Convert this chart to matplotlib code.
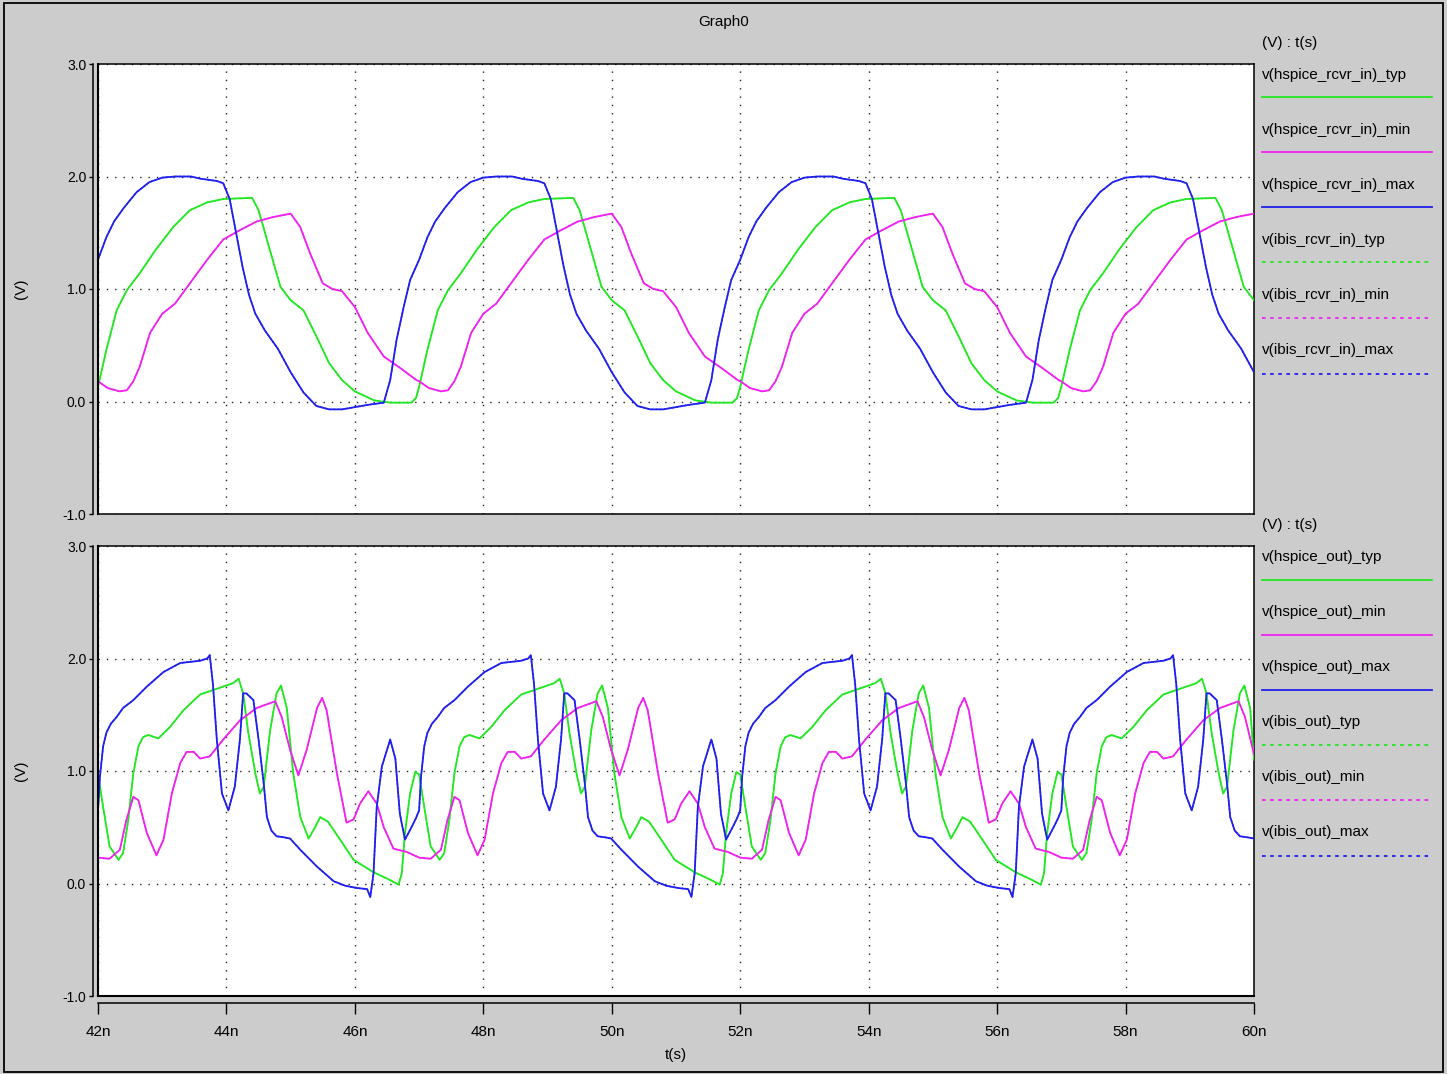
import matplotlib
matplotlib.use("Agg")
import matplotlib.pyplot as plt
from matplotlib.lines import Line2D
from matplotlib.patches import Rectangle

# ---------------- data (time in ns, voltage in V) ----------------
x_ticks = [42, 44, 46, 48, 50, 52, 54, 56, 58, 60]
x_tick_labels = ["42n", "44n", "46n", "48n", "50n", "52n", "54n", "56n", "58n", "60n"]
y_ticks = [-1.0, 0.0, 1.0, 2.0, 3.0]
y_tick_labels = ["-1.0", "0.0", "1.0", "2.0", "3.0"]

# receiver input, max corner (blue)
rcvr_in_max = [
    (42.00, 1.26), (42.13, 1.46), (42.25, 1.60), (42.40, 1.72), (42.60, 1.86), (42.80, 1.95), (43.00, 1.99), (43.20, 2.00),
    (43.45, 2.00), (43.60, 1.98), (43.85, 1.96), (43.95, 1.94), (44.05, 1.80), (44.15, 1.50), (44.25, 1.20), (44.35, 0.95),
    (44.45, 0.78), (44.60, 0.63), (44.80, 0.47), (45.00, 0.26), (45.20, 0.08), (45.40, -0.04), (45.60, -0.07), (45.80, -0.07),
    (46.00, -0.05), (46.20, -0.03), (46.45, -0.01), (46.55, 0.19), (46.65, 0.55), (46.76, 0.84), (46.86, 1.08),
    (47.00, 1.26), (47.13, 1.46), (47.25, 1.60), (47.40, 1.72), (47.60, 1.86), (47.80, 1.95), (48.00, 1.99), (48.20, 2.00),
    (48.45, 2.00), (48.60, 1.98), (48.85, 1.96), (48.95, 1.94), (49.05, 1.80), (49.15, 1.50), (49.25, 1.20), (49.35, 0.95),
    (49.45, 0.78), (49.60, 0.63), (49.80, 0.47), (50.00, 0.26), (50.20, 0.08), (50.40, -0.04), (50.60, -0.07), (50.80, -0.07),
    (51.00, -0.05), (51.20, -0.03), (51.45, -0.01), (51.55, 0.19), (51.65, 0.55), (51.76, 0.84), (51.86, 1.08),
    (52.00, 1.26), (52.13, 1.46), (52.25, 1.60), (52.40, 1.72), (52.60, 1.86), (52.80, 1.95), (53.00, 1.99), (53.20, 2.00),
    (53.45, 2.00), (53.60, 1.98), (53.85, 1.96), (53.95, 1.94), (54.05, 1.80), (54.15, 1.50), (54.25, 1.20), (54.35, 0.95),
    (54.45, 0.78), (54.60, 0.63), (54.80, 0.47), (55.00, 0.26), (55.20, 0.08), (55.40, -0.04), (55.60, -0.07), (55.80, -0.07),
    (56.00, -0.05), (56.20, -0.03), (56.45, -0.01), (56.55, 0.19), (56.65, 0.55), (56.76, 0.84), (56.86, 1.08),
    (57.00, 1.26), (57.13, 1.46), (57.25, 1.60), (57.40, 1.72), (57.60, 1.86), (57.80, 1.95), (58.00, 1.99), (58.20, 2.00),
    (58.45, 2.00), (58.60, 1.98), (58.85, 1.96), (58.95, 1.94), (59.05, 1.80), (59.15, 1.50), (59.25, 1.20), (59.35, 0.95),
    (59.45, 0.78), (59.60, 0.63), (59.80, 0.47), (60.00, 0.26),
]

# receiver input, typical corner (green)
rcvr_in_typ = [
    (42.00, 0.13), (42.13, 0.46), (42.29, 0.81), (42.45, 0.99), (42.65, 1.14), (42.90, 1.35), (43.17, 1.55), (43.43, 1.70),
    (43.70, 1.77), (43.95, 1.80), (44.40, 1.81), (44.50, 1.70), (44.60, 1.50), (44.70, 1.30), (44.84, 1.02), (45.00, 0.90),
    (45.20, 0.81), (45.40, 0.58), (45.60, 0.34), (45.80, 0.19), (46.00, 0.09), (46.30, 0.01), (46.55, -0.01), (46.88, -0.01),
    (46.95, 0.03),
    (47.00, 0.13), (47.13, 0.46), (47.29, 0.81), (47.45, 0.99), (47.65, 1.14), (47.90, 1.35), (48.17, 1.55), (48.43, 1.70),
    (48.70, 1.77), (48.95, 1.80), (49.40, 1.81), (49.50, 1.70), (49.60, 1.50), (49.70, 1.30), (49.84, 1.02), (50.00, 0.90),
    (50.20, 0.81), (50.40, 0.58), (50.60, 0.34), (50.80, 0.19), (51.00, 0.09), (51.30, 0.01), (51.55, -0.01), (51.88, -0.01),
    (51.95, 0.03),
    (52.00, 0.13), (52.13, 0.46), (52.29, 0.81), (52.45, 0.99), (52.65, 1.14), (52.90, 1.35), (53.17, 1.55), (53.43, 1.70),
    (53.70, 1.77), (53.95, 1.80), (54.40, 1.81), (54.50, 1.70), (54.60, 1.50), (54.70, 1.30), (54.84, 1.02), (55.00, 0.90),
    (55.20, 0.81), (55.40, 0.58), (55.60, 0.34), (55.80, 0.19), (56.00, 0.09), (56.30, 0.01), (56.55, -0.01), (56.88, -0.01),
    (56.95, 0.03),
    (57.00, 0.13), (57.13, 0.46), (57.29, 0.81), (57.45, 0.99), (57.65, 1.14), (57.90, 1.35), (58.17, 1.55), (58.43, 1.70),
    (58.70, 1.77), (58.95, 1.80), (59.40, 1.81), (59.50, 1.70), (59.60, 1.50), (59.70, 1.30), (59.84, 1.02), (60.00, 0.90),
]

# receiver input, min corner (magenta)
rcvr_in_min = [
    (42.00, 0.18), (42.15, 0.12), (42.34, 0.09), (42.45, 0.10), (42.55, 0.18), (42.65, 0.31), (42.81, 0.61), (43.00, 0.78),
    (43.20, 0.87), (43.43, 1.05), (43.70, 1.26), (43.95, 1.44), (44.20, 1.52), (44.47, 1.60), (44.73, 1.64), (45.00, 1.67),
    (45.15, 1.55), (45.30, 1.32), (45.50, 1.05), (45.65, 1.00), (45.80, 0.98), (46.00, 0.84), (46.20, 0.61), (46.45, 0.40),
    (46.70, 0.30), (46.96, 0.19),
    (47.00, 0.18), (47.15, 0.12), (47.34, 0.09), (47.45, 0.10), (47.55, 0.18), (47.65, 0.31), (47.81, 0.61), (48.00, 0.78),
    (48.20, 0.87), (48.43, 1.05), (48.70, 1.26), (48.95, 1.44), (49.20, 1.52), (49.47, 1.60), (49.73, 1.64), (50.00, 1.67),
    (50.15, 1.55), (50.30, 1.32), (50.50, 1.05), (50.65, 1.00), (50.80, 0.98), (51.00, 0.84), (51.20, 0.61), (51.45, 0.40),
    (51.70, 0.30), (51.96, 0.19),
    (52.00, 0.18), (52.15, 0.12), (52.34, 0.09), (52.45, 0.10), (52.55, 0.18), (52.65, 0.31), (52.81, 0.61), (53.00, 0.78),
    (53.20, 0.87), (53.43, 1.05), (53.70, 1.26), (53.95, 1.44), (54.20, 1.52), (54.47, 1.60), (54.73, 1.64), (55.00, 1.67),
    (55.15, 1.55), (55.30, 1.32), (55.50, 1.05), (55.65, 1.00), (55.80, 0.98), (56.00, 0.84), (56.20, 0.61), (56.45, 0.40),
    (56.70, 0.30), (56.96, 0.19),
    (57.00, 0.18), (57.15, 0.12), (57.34, 0.09), (57.45, 0.10), (57.55, 0.18), (57.65, 0.31), (57.81, 0.61), (58.00, 0.78),
    (58.20, 0.87), (58.43, 1.05), (58.70, 1.26), (58.95, 1.44), (59.20, 1.52), (59.47, 1.60), (59.73, 1.64), (60.00, 1.67),
]

# driver output, max corner (blue)
out_max = [
    (42.00, 0.65), (42.03, 0.95), (42.08, 1.22), (42.13, 1.34), (42.20, 1.42), (42.29, 1.48), (42.39, 1.56), (42.55, 1.63),
    (42.76, 1.75), (43.02, 1.88), (43.28, 1.96), (43.59, 1.98), (43.70, 2.00), (43.74, 2.03), (43.79, 1.77), (43.85, 1.28),
    (43.93, 0.80), (44.03, 0.65), (44.13, 0.86), (44.21, 1.28), (44.26, 1.69), (44.31, 1.69), (44.42, 1.63), (44.50, 1.28),
    (44.58, 0.89), (44.63, 0.59), (44.70, 0.47), (44.78, 0.42), (44.90, 0.41), (44.99, 0.40), (45.15, 0.30), (45.41, 0.15),
    (45.67, 0.02), (45.85, -0.02), (46.03, -0.04), (46.19, -0.05), (46.24, -0.12), (46.29, 0.09), (46.34, 0.68), (46.42, 1.04),
    (46.55, 1.28), (46.63, 1.11), (46.70, 0.62), (46.78, 0.39), (46.89, 0.51), (46.95, 0.58),
    (47.00, 0.65), (47.03, 0.95), (47.08, 1.22), (47.13, 1.34), (47.20, 1.42), (47.29, 1.48), (47.39, 1.56), (47.55, 1.63),
    (47.76, 1.75), (48.02, 1.88), (48.28, 1.96), (48.59, 1.98), (48.70, 2.00), (48.74, 2.03), (48.79, 1.77), (48.85, 1.28),
    (48.93, 0.80), (49.03, 0.65), (49.13, 0.86), (49.21, 1.28), (49.26, 1.69), (49.31, 1.69), (49.42, 1.63), (49.50, 1.28),
    (49.58, 0.89), (49.63, 0.59), (49.70, 0.47), (49.78, 0.42), (49.90, 0.41), (49.99, 0.40), (50.15, 0.30), (50.41, 0.15),
    (50.67, 0.02), (50.85, -0.02), (51.03, -0.04), (51.19, -0.05), (51.24, -0.12), (51.29, 0.09), (51.34, 0.68), (51.42, 1.04),
    (51.55, 1.28), (51.63, 1.11), (51.70, 0.62), (51.78, 0.39), (51.89, 0.51), (51.95, 0.58),
    (52.00, 0.65), (52.03, 0.95), (52.08, 1.22), (52.13, 1.34), (52.20, 1.42), (52.29, 1.48), (52.39, 1.56), (52.55, 1.63),
    (52.76, 1.75), (53.02, 1.88), (53.28, 1.96), (53.59, 1.98), (53.70, 2.00), (53.74, 2.03), (53.79, 1.77), (53.85, 1.28),
    (53.93, 0.80), (54.03, 0.65), (54.13, 0.86), (54.21, 1.28), (54.26, 1.69), (54.31, 1.69), (54.42, 1.63), (54.50, 1.28),
    (54.58, 0.89), (54.63, 0.59), (54.70, 0.47), (54.78, 0.42), (54.90, 0.41), (54.99, 0.40), (55.15, 0.30), (55.41, 0.15),
    (55.67, 0.02), (55.85, -0.02), (56.03, -0.04), (56.19, -0.05), (56.24, -0.12), (56.29, 0.09), (56.34, 0.68), (56.42, 1.04),
    (56.55, 1.28), (56.63, 1.11), (56.70, 0.62), (56.78, 0.39), (56.89, 0.51), (56.95, 0.58),
    (57.00, 0.65), (57.03, 0.95), (57.08, 1.22), (57.13, 1.34), (57.20, 1.42), (57.29, 1.48), (57.39, 1.56), (57.55, 1.63),
    (57.76, 1.75), (58.02, 1.88), (58.28, 1.96), (58.59, 1.98), (58.70, 2.00), (58.74, 2.03), (58.79, 1.77), (58.85, 1.28),
    (58.93, 0.80), (59.03, 0.65), (59.13, 0.86), (59.21, 1.28), (59.26, 1.69), (59.31, 1.69), (59.42, 1.63), (59.50, 1.28),
    (59.58, 0.89), (59.63, 0.59), (59.70, 0.47), (59.78, 0.42), (59.90, 0.41), (60.00, 0.40),
]

# driver output, typical corner (green)
out_typ = [
    (42.00, 0.97), (42.08, 0.68), (42.18, 0.33), (42.32, 0.21), (42.39, 0.27), (42.47, 0.56), (42.55, 0.98), (42.63, 1.22),
    (42.70, 1.30), (42.78, 1.32), (42.94, 1.29), (43.12, 1.39), (43.33, 1.54), (43.59, 1.68), (43.95, 1.75), (44.10, 1.78),
    (44.19, 1.82), (44.26, 1.69), (44.34, 1.34), (44.45, 0.98), (44.52, 0.80), (44.58, 0.86), (44.68, 1.36), (44.78, 1.69),
    (44.85, 1.76), (44.94, 1.56), (45.04, 0.98), (45.15, 0.59), (45.28, 0.40), (45.38, 0.50), (45.46, 0.59), (45.58, 0.55),
    (45.77, 0.39), (45.98, 0.21), (46.29, 0.10), (46.55, 0.03), (46.68, -0.01), (46.73, 0.09), (46.78, 0.45), (46.86, 0.80),
    (46.94, 0.99),
    (47.00, 0.97), (47.08, 0.68), (47.18, 0.33), (47.32, 0.21), (47.39, 0.27), (47.47, 0.56), (47.55, 0.98), (47.63, 1.22),
    (47.70, 1.30), (47.78, 1.32), (47.94, 1.29), (48.12, 1.39), (48.33, 1.54), (48.59, 1.68), (48.95, 1.75), (49.10, 1.78),
    (49.19, 1.82), (49.26, 1.69), (49.34, 1.34), (49.45, 0.98), (49.52, 0.80), (49.58, 0.86), (49.68, 1.36), (49.78, 1.69),
    (49.85, 1.76), (49.94, 1.56), (50.04, 0.98), (50.15, 0.59), (50.28, 0.40), (50.38, 0.50), (50.46, 0.59), (50.58, 0.55),
    (50.77, 0.39), (50.98, 0.21), (51.29, 0.10), (51.55, 0.03), (51.68, -0.01), (51.73, 0.09), (51.78, 0.45), (51.86, 0.80),
    (51.94, 0.99),
    (52.00, 0.97), (52.08, 0.68), (52.18, 0.33), (52.32, 0.21), (52.39, 0.27), (52.47, 0.56), (52.55, 0.98), (52.63, 1.22),
    (52.70, 1.30), (52.78, 1.32), (52.94, 1.29), (53.12, 1.39), (53.33, 1.54), (53.59, 1.68), (53.95, 1.75), (54.10, 1.78),
    (54.19, 1.82), (54.26, 1.69), (54.34, 1.34), (54.45, 0.98), (54.52, 0.80), (54.58, 0.86), (54.68, 1.36), (54.78, 1.69),
    (54.85, 1.76), (54.94, 1.56), (55.04, 0.98), (55.15, 0.59), (55.28, 0.40), (55.38, 0.50), (55.46, 0.59), (55.58, 0.55),
    (55.77, 0.39), (55.98, 0.21), (56.29, 0.10), (56.55, 0.03), (56.68, -0.01), (56.73, 0.09), (56.78, 0.45), (56.86, 0.80),
    (56.94, 0.99),
    (57.00, 0.97), (57.08, 0.68), (57.18, 0.33), (57.32, 0.21), (57.39, 0.27), (57.47, 0.56), (57.55, 0.98), (57.63, 1.22),
    (57.70, 1.30), (57.78, 1.32), (57.94, 1.29), (58.12, 1.39), (58.33, 1.54), (58.59, 1.68), (58.95, 1.75), (59.10, 1.78),
    (59.19, 1.82), (59.26, 1.69), (59.34, 1.34), (59.45, 0.98), (59.52, 0.80), (59.58, 0.86), (59.68, 1.36), (59.78, 1.69),
    (59.85, 1.76), (59.94, 1.56), (60.00, 1.10),
]

# driver output, min corner (magenta)
out_min = [
    (42.00, 0.23), (42.18, 0.22), (42.34, 0.30), (42.44, 0.56), (42.55, 0.77), (42.63, 0.74), (42.76, 0.45), (42.91, 0.25),
    (43.02, 0.39), (43.15, 0.80), (43.28, 1.07), (43.38, 1.17), (43.49, 1.17), (43.59, 1.11), (43.74, 1.13), (43.95, 1.28),
    (44.21, 1.45), (44.47, 1.56), (44.76, 1.62), (44.86, 1.48), (44.99, 1.19), (45.12, 0.96), (45.25, 1.19), (45.41, 1.56),
    (45.49, 1.65), (45.56, 1.54), (45.72, 0.98), (45.87, 0.54), (45.98, 0.57), (46.08, 0.71), (46.21, 0.82), (46.34, 0.71),
    (46.45, 0.50), (46.60, 0.31), (46.81, 0.28),
    (47.00, 0.23), (47.18, 0.22), (47.34, 0.30), (47.44, 0.56), (47.55, 0.77), (47.63, 0.74), (47.76, 0.45), (47.91, 0.25),
    (48.02, 0.39), (48.15, 0.80), (48.28, 1.07), (48.38, 1.17), (48.49, 1.17), (48.59, 1.11), (48.74, 1.13), (48.95, 1.28),
    (49.21, 1.45), (49.47, 1.56), (49.76, 1.62), (49.86, 1.48), (49.99, 1.19), (50.12, 0.96), (50.25, 1.19), (50.41, 1.56),
    (50.49, 1.65), (50.56, 1.54), (50.72, 0.98), (50.87, 0.54), (50.98, 0.57), (51.08, 0.71), (51.21, 0.82), (51.34, 0.71),
    (51.45, 0.50), (51.60, 0.31), (51.81, 0.28),
    (52.00, 0.23), (52.18, 0.22), (52.34, 0.30), (52.44, 0.56), (52.55, 0.77), (52.63, 0.74), (52.76, 0.45), (52.91, 0.25),
    (53.02, 0.39), (53.15, 0.80), (53.28, 1.07), (53.38, 1.17), (53.49, 1.17), (53.59, 1.11), (53.74, 1.13), (53.95, 1.28),
    (54.21, 1.45), (54.47, 1.56), (54.76, 1.62), (54.86, 1.48), (54.99, 1.19), (55.12, 0.96), (55.25, 1.19), (55.41, 1.56),
    (55.49, 1.65), (55.56, 1.54), (55.72, 0.98), (55.87, 0.54), (55.98, 0.57), (56.08, 0.71), (56.21, 0.82), (56.34, 0.71),
    (56.45, 0.50), (56.60, 0.31), (56.81, 0.28),
    (57.00, 0.23), (57.18, 0.22), (57.34, 0.30), (57.44, 0.56), (57.55, 0.77), (57.63, 0.74), (57.76, 0.45), (57.91, 0.25),
    (58.02, 0.39), (58.15, 0.80), (58.28, 1.07), (58.38, 1.17), (58.49, 1.17), (58.59, 1.11), (58.74, 1.13), (58.95, 1.28),
    (59.21, 1.45), (59.47, 1.56), (59.76, 1.62), (59.86, 1.48), (60.00, 1.15),
]

top_names = ["v(hspice_rcvr_in)_typ", "v(hspice_rcvr_in)_min", "v(hspice_rcvr_in)_max",
             "v(ibis_rcvr_in)_typ", "v(ibis_rcvr_in)_min", "v(ibis_rcvr_in)_max"]
bot_names = ["v(hspice_out)_typ", "v(hspice_out)_min", "v(hspice_out)_max",
             "v(ibis_out)_typ", "v(ibis_out)_min", "v(ibis_out)_max"]

# ---------------- style ----------------
GREEN = "#22e822"
MAGENTA = "#f022f0"
BLUE = "#2020ee"
BG = "#cccccc"
FONT = "Liberation Sans"
FS = 11

plt.rcParams["font.family"] = [FONT, "DejaVu Sans"]

W, H = 1447, 1074
fig = plt.figure(figsize=(W / 100, H / 100), dpi=100, facecolor=BG)


def fx(px):
    return px / W


def fy(py):
    return 1 - py / H


def make_axes(top_px, bot_px):
    ax = fig.add_axes([fx(98), fy(bot_px), fx(1254) - fx(98), fy(top_px) - fy(bot_px)])
    ax.set_facecolor("white")
    ax.set_xlim(42, 60)
    ax.set_ylim(-1.0, 3.0)
    ax.set_yticks(y_ticks)
    ax.set_yticklabels(y_tick_labels, fontsize=FS)
    ax.set_xticks(x_ticks)
    ax.grid(True, color="#222222", linestyle=(0, (1, 5)), linewidth=1.0)
    for s in ax.spines.values():
        s.set_linewidth(1.1)
        s.set_color("black")
    ax.spines["left"].set_position(("outward", 3.5))
    # box edge where the left spine used to be
    ax.plot([0, 0], [0, 1], transform=ax.transAxes, color="black", lw=1.5, clip_on=False, zorder=5)
    ax.tick_params(axis="y", direction="out", length=3.0, width=1.0, pad=2)
    ax.set_ylabel("(V)", fontsize=FS)
    ax.yaxis.set_label_coords((28 - 98) / (1254 - 98), 0.5)
    return ax


def draw(ax, series, color, ls):
    t = [p[0] for p in series]
    v = [p[1] for p in series]
    if ls == "solid":
        ax.plot(t, v, color=color, lw=1.3, solid_joinstyle="round", zorder=3)
    else:
        ax.plot(t, v, color=color, lw=1.0, linestyle=(0, (1.5, 1.5)), zorder=2)


ax1 = make_axes(64, 514)
ax1.tick_params(axis="x", which="both", length=0, labelbottom=False)
ax2 = make_axes(546, 996)
ax2.spines["bottom"].set_position(("outward", 5))
ax2.plot([0, 1], [0, 0], transform=ax2.transAxes, color="black", lw=1.5, clip_on=False, zorder=5)
ax2.set_xticklabels(x_tick_labels, fontsize=FS)
ax2.tick_params(axis="x", direction="out", length=8, width=1.0, pad=8)
ax2.set_xlabel("t(s)", fontsize=FS, labelpad=6)

for ax, (typ, mn, mx) in ((ax1, (rcvr_in_typ, rcvr_in_min, rcvr_in_max)),
                          (ax2, (out_typ, out_min, out_max))):
    draw(ax, typ, GREEN, "dotted")
    draw(ax, mn, MAGENTA, "dotted")
    draw(ax, mx, BLUE, "dotted")
    draw(ax, typ, GREEN, "solid")
    draw(ax, mn, MAGENTA, "solid")
    draw(ax, mx, BLUE, "solid")

# title
fig.text(0.5, fy(22), "Graph0", ha="center", va="center", fontsize=FS)

# legends drawn at the right side
colors = [GREEN, MAGENTA, BLUE, GREEN, MAGENTA, BLUE]
styles = ["-", "-", "-", (0, (2, 2.5)), (0, (2, 2.5)), (0, (2, 2.5))]


def legend(header_y, text_ys, line_ys, names):
    fig.text(fx(1262), fy(header_y), "(V) : t(s)", ha="left", va="center", fontsize=FS)
    for name, ty, ly, c, ls in zip(names, text_ys, line_ys, colors, styles):
        fig.text(fx(1262), fy(ty), name, ha="left", va="center", fontsize=FS)
        fig.add_artist(Line2D([fx(1262), fx(1432)], [fy(ly), fy(ly)], color=c, lw=1.3,
                              linestyle=ls, transform=fig.transFigure))


legend(43, [75, 130, 185, 240, 295, 350], [97, 152, 207, 262, 318, 374], top_names)
legend(525, [557, 612, 667, 722, 777, 832], [580, 635, 690, 745, 800, 856], bot_names)

# outer frame
fig.add_artist(Rectangle((fx(4), fy(1072)), fx(1443) - fx(4), fy(3) - fy(1072), fill=False,
                         edgecolor="black", lw=1.3, transform=fig.transFigure))

fig.savefig("out.png", dpi=100, facecolor=BG)
